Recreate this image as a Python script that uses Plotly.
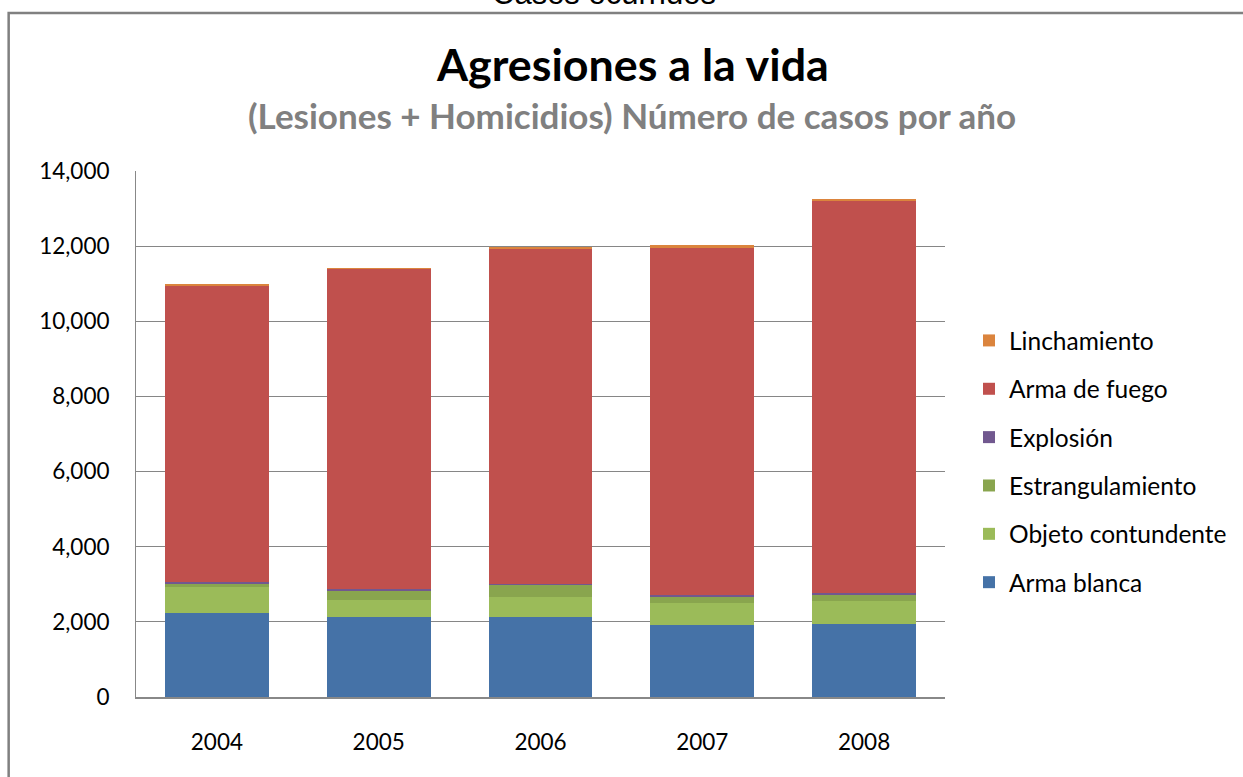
import plotly.graph_objects as go

years = ["2004", "2005", "2006", "2007", "2008"]
arma_blanca = [2244, 2129, 2135, 1908, 1952]
objeto_contundente = [684, 453, 518, 585, 603]
estrangulamiento = [106, 248, 328, 177, 168]
explosion = [20, 45, 27, 45, 36]
arma_de_fuego = [7904, 8517, 8924, 9245, 10451]
linchamiento = [18, 26, 28, 71, 45]

series = [
    ("Arma blanca", arma_blanca, "#4572A7"),
    ("Objeto contundente", objeto_contundente, "#9BBB59"),
    ("Estrangulamiento", estrangulamiento, "#89A54E"),
    ("Explosión", explosion, "#71588F"),
    ("Arma de fuego", arma_de_fuego, "#C0504D"),
    ("Linchamiento", linchamiento, "#DB843D"),
]

FONT = "Lato"
W, H = 1243, 777
# plot area in screen pixels (page margin removed below)
L, R, T, B = 136, 946, 171, 697

def px(x):
    return (x - L) / (R - L)

def py(y):
    return (B - y) / (B - T)

fig = go.Figure()
for i, (name, vals, color) in enumerate(series):
    fig.add_trace(go.Bar(x=years, y=vals, name=name, legendgroup=name,
                         legendrank=1000 - i,
                         marker=dict(color=color, line=dict(width=0))))

fig.update_layout(
    width=W, height=H,
    margin=dict(l=L, r=W - R, t=T, b=H - B, pad=0),
    barmode="stack", bargap=0.358,
    plot_bgcolor="white", paper_bgcolor="white",
    font=dict(family=FONT, size=22, color="#000000"),
    showlegend=True,
    legend=dict(traceorder="grouped", tracegroupgap=13.5,
                x=px(969), y=py(318), xanchor="left", yanchor="top",
                font=dict(family=FONT, size=24.5, color="#000000"),
                itemwidth=30, bgcolor="rgba(0,0,0,0)"),
    xaxis=dict(showline=True, linecolor="#888888", linewidth=1.5, ticks="",
               ticklabelstandoff=24,
               tickfont=dict(size=22.5), showgrid=False),
    yaxis=dict(range=[0, 14000], dtick=2000, tickformat=",d",
               showgrid=True, gridcolor="#868686", gridwidth=1.3,
               showline=True, linecolor="#888888", linewidth=1, ticks="",
               ticklabelstandoff=21, tickfont=dict(size=22.5), zeroline=False),
    shapes=[dict(type="rect", xref="paper", yref="paper",
                 x0=px(8.5), x1=px(1300), y0=py(13), y1=py(830),
                 line=dict(color="#808080", width=2.5), layer="below")],
    annotations=[
        dict(text="Casos ocurridos", xref="paper", yref="paper",
             x=px(605), y=py(-6), xanchor="center", yanchor="middle",
             showarrow=False,
             font=dict(family="Liberation Sans Narrow, Liberation Sans", size=31, color="#000000")),
        dict(text="<b>Agresiones a la vida</b>", xref="paper", yref="paper",
             x=px(633), y=py(64), xanchor="center", yanchor="middle",
             showarrow=False, font=dict(family=FONT, size=44.8, color="#000000")),
        dict(text="<b>(Lesiones + Homicidios) Número de casos por año</b>", xref="paper", yref="paper",
             x=px(633), y=py(115), xanchor="center", yanchor="middle",
             showarrow=False, font=dict(family=FONT, size=35, color="#808080")),
    ],
)

fig.write_html("out.html", config={"displayModeBar": False},
               post_script="document.body.style.margin='0';")
